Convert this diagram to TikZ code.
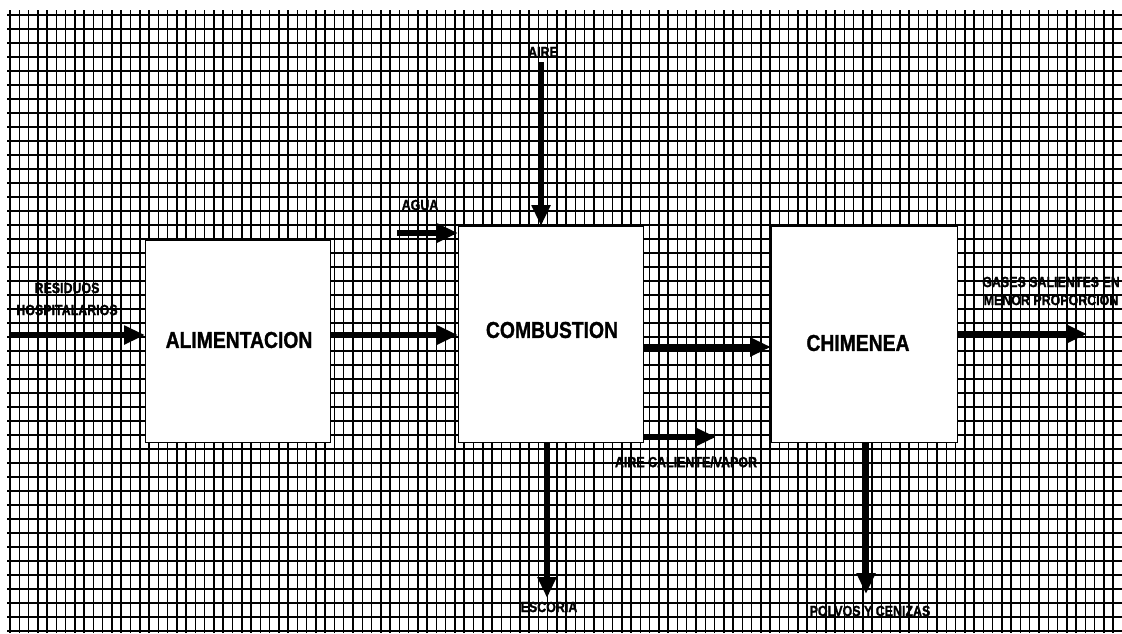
\documentclass[tikz,border=0pt]{standalone}
\usepackage{fontspec}
\newfontfamily\labfont{Liberation Sans}[FakeStretch=0.84,FakeBold=1.2]
\usetikzlibrary{arrows.meta}
\begin{document}
\begin{tikzpicture}[x=1pt,y=-1pt,
  gridline/.style={line width=1.5pt,black},
  box/.style={draw=black,line width=1pt,fill=white,rectangle,inner sep=0pt,anchor=north west},
  arr/.style={line width=6pt,-{Triangle[length=21pt,width=18pt]}},
  small/.style={font=\labfont\bfseries\fontsize{14.8}{18}\selectfont,inner sep=0pt,align=center},
  big/.style={font=\labfont\bfseries\fontsize{23}{26}\selectfont,inner sep=0pt}]
\useasboundingbox (0,0) rectangle (1122,633);
\fill[white] (0,0) rectangle (1122,633);
% grid
\foreach \i in {0,...,119} \draw[gridline] ({10+\i*9.27},10) -- ({10+\i*9.27},633);
\foreach \j in {0,...,44} \draw[gridline] (7,{15+\j*14}) -- (1122,{15+\j*14});
% boxes
\node[box,minimum width=185pt,minimum height=202pt] (alim) at (145,240) {};
\node[box,minimum width=185pt,minimum height=216pt] (comb) at (458,226) {};
\node[box,minimum width=186pt,minimum height=216pt] (chim) at (771,226) {};
% box texts
\node[big] (talim) at (239,340) {ALIMENTACION};
\node[big] (tcomb) at (552,330) {COMBUSTION};
\node[big] (tchim) at (858,343) {CHIMENEA};
% coordinates
\coordinate (resin) at (10,335);
\coordinate (y1) at (0,335);
\coordinate (aguain) at (397,233);
\coordinate (airein) at (541,62);
\coordinate (y2) at (0,347);
\coordinate (acalout) at (716,437);
\coordinate (acalst) at (643,437);
\coordinate (escout) at (547,598);
\coordinate (escst) at (547,442);
\coordinate (gasst) at (957,334);
\coordinate (gasout) at (1087,334);
\coordinate (polst) at (866,442);
\coordinate (polout) at (866,594);
% arrows
\draw[arr] (resin) -- (alim.west |- resin);
\draw[arr] (alim.east |- y1) -- (comb.west |- y1);
\draw[arr] (aguain) -- (comb.west |- aguain);
\draw[arr] (airein) -- (comb.north -| airein);
\draw[arr] (comb.east |- y2) -- (chim.west |- y2);
\draw[arr] (acalst) -- (acalout);
\draw[arr] (escst) -- (escout);
\draw[arr] (gasst) -- (gasout);
\draw[arr] (polst) -- (polout);
% labels
\node[small] (lres) at (67,299) {RESIDUOS\\[4pt]HOSPITALARIOS};
\node[small] (lagua) at (420,205) {AGUA};
\node[small] (laire) at (543,52) {AIRE};
\node[small] (lacal) at (686,462) {AIRE CALIENTE/VAPOR};
\node[small] (lesc) at (549,607) {ESCORIA};
\node[small] (lpol) at (870,611) {POLVOS Y CENIZAS};
\node[small] (lgas) at (1051,291) {GASES SALIENTES EN\\MENOR PROPORCION};
\end{tikzpicture}
\end{document}
